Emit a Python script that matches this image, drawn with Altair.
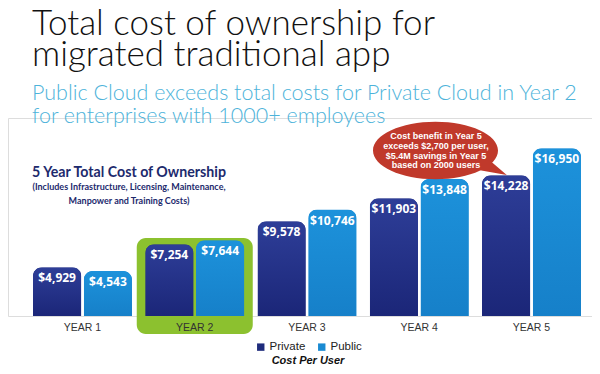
import altair as alt
import pandas as pd

# ---- data ----
years = ["YEAR 1", "YEAR 2", "YEAR 3", "YEAR 4", "YEAR 5"]
series = ["Private", "Public"]
private_cost = [4929, 7254, 9578, 11903, 14228]
public_cost = [4543, 7644, 10746, 13848, 16950]
highlight_year = ["YEAR 2"]

title_lines = ["Total cost of ownership for", "migrated traditional app"]
subtitle_lines = ["Public Cloud exceeds total costs for Private Cloud in Year 2",
                  "for enterprises with 1000+ employees"]
inner_title = ["5 Year Total Cost of Ownership"]
inner_note = ["(Includes Infrastructure, Licensing, Maintenance,",
              "Manpower and Training Costs)"]
callout_lines = ["Cost benefit in Year 5", "exceeds $2,700 per user,",
                 "$5.4M savings in Year 5", "based on 2000 users"]
legend_title = "Cost Per User"

rows = []
for i, yr in enumerate(years):
    rows.append({"Year": yr, "Series": series[0], "Cost": private_cost[i]})
    rows.append({"Year": yr, "Series": series[1], "Cost": public_cost[i]})
df = pd.DataFrame(rows)
df["Label"] = df["Cost"].map(lambda v: f"${v:,}")

hl = pd.DataFrame({"Year": highlight_year})
ann_title = pd.DataFrame({"t": ["\n".join(inner_title)]})
ann_note = pd.DataFrame({"t": ["\n".join(inner_note)]})
ann_callout = pd.DataFrame({"t": ["\n".join(callout_lines)]})

# ---- scales ----
x_scale = alt.Scale(domain=years, range=[25, 573], paddingInner=0.118, paddingOuter=0)
x_enc = alt.X("Year:N", sort=years, scale=x_scale,
              axis=alt.Axis(title=None, labelAngle=0, labelAlign="center", labelBaseline="top",
                            domain=False, ticks=False, labelPadding=6,
                            labelFont="Liberation Sans", labelFontSize=10.5, labelColor="#333333",
                            zindex=1))
y_enc = alt.Y("Cost:Q", scale=alt.Scale(domain=[0, 20000], nice=False, zero=True), axis=None)
xo_enc = alt.XOffset("Series:N", scale=alt.Scale(domain=series, paddingInner=0.05, paddingOuter=0))

grad_private = alt.Gradient(gradient="linear", x1=0, x2=0, y1=0, y2=1,
                            stops=[alt.GradientStop(color="#2e3e98", offset=0),
                                   alt.GradientStop(color="#1b2678", offset=1)])
grad_public = alt.Gradient(gradient="linear", x1=0, x2=0, y1=0, y2=1,
                           stops=[alt.GradientStop(color="#1d92db", offset=0),
                                  alt.GradientStop(color="#1680c9", offset=1)])

highlight = alt.Chart(hl).mark_bar(width=116, cornerRadius=9, color="#8cc12f").encode(
    x=alt.X("Year:N", sort=years, scale=x_scale),
    y=alt.value(120), y2=alt.value(216))

base_bars = alt.Chart(df).mark_bar(cornerRadiusTopLeft=9, cornerRadiusTopRight=9).encode(
    x=x_enc, xOffset=xo_enc, y=y_enc,
    color=alt.Color("Series:N",
                    scale=alt.Scale(domain=series, range=["#1f2c7c", "#1a8ad2"]),
                    legend=alt.Legend(title=legend_title, orient="none", legendX=247, legendY=223,
                                      direction="horizontal", titleOrient="bottom",
                                      titleAnchor="middle", symbolType="square", symbolSize=55,
                                      symbolStrokeWidth=0, labelFont="Liberation Sans",
                                      labelFontSize=11.5, labelColor="#222222",
                                      titleFont="Liberation Sans", titleFontSize=11,
                                      titleFontStyle="italic", titleFontWeight="bold",
                                      titleColor="#111111", titlePadding=2, columnPadding=10,
                                      labelOffset=3)))

priv_bars = alt.Chart(df).transform_filter(alt.datum.Series == series[0]).mark_bar(
    cornerRadiusTopLeft=9, cornerRadiusTopRight=9, color=grad_private).encode(
    x=x_enc, xOffset=xo_enc, y=y_enc)
pub_bars = alt.Chart(df).transform_filter(alt.datum.Series == series[1]).mark_bar(
    cornerRadiusTopLeft=9, cornerRadiusTopRight=9, color=grad_public).encode(
    x=x_enc, xOffset=xo_enc, y=y_enc)

labels = alt.Chart(df).mark_text(baseline="top", dy=6, color="white", font="Open Sans",
                                 fontWeight="bold", fontSize=12).encode(
    x=x_enc, xOffset=xo_enc, y=y_enc, text="Label:N")

t_inner = alt.Chart(ann_title).mark_text(font="Lato", fontWeight="bold", fontSize=14.2,
                                         color="#1d2a6d", align="center", baseline="middle").encode(
    x=alt.value(121), y=alt.value(55), text="t:N")
t_note = alt.Chart(ann_note).mark_text(font="Lato", fontWeight="bold", fontSize=9,
                                       color="#1d2a6d", align="center", baseline="middle",
                                       lineBreak="\n", lineHeight=14).encode(
    x=alt.value(121), y=alt.value(69), text="t:N")

bubble_path = ("M -1 0 C -1 -0.254 -0.5523 -0.46 0 -0.46 C 0.5523 -0.46 1 -0.254 1 0 "
               "C 1 0.254 0.5523 0.46 0 0.46 C -0.5523 0.46 -1 0.254 -1 0 Z "
               "M 0.86 0.15 L 1.14 0.39 L 0.62 0.30 Z")
bubble = alt.Chart(ann_callout).mark_point(shape=bubble_path, filled=True, size=15625,
                                           color="#c0392b", opacity=1, strokeWidth=0).encode(
    x=alt.value(427.5), y=alt.value(32.5))
t_callout = alt.Chart(ann_callout).mark_text(font="Liberation Sans", fontWeight="bold", fontSize=9,
                                             color="white", align="center", baseline="middle",
                                             lineBreak="\n", lineHeight=9.8).encode(
    x=alt.value(428), y=alt.value(18), text="t:N")

chart = alt.layer(highlight, base_bars, priv_bars, pub_bars, labels, t_inner, t_note,
                  bubble, t_callout).properties(
    width=584, height=198,
    autosize=alt.AutoSizeParams(type="none"),
    padding={"left": 0, "right": 0, "top": 110, "bottom": 50},
    title=alt.Title(text=title_lines, subtitle=subtitle_lines, anchor="start", frame="group",
                    dx=24, dy=-4, offset=-13, font="Lato", fontWeight=300, fontSize=35,
                    lineHeight=31, color="#111111", subtitleFont="Lato", subtitleFontWeight=300,
                    subtitleFontSize=21.5, subtitleLineHeight=23, subtitleColor="#4db3da",
                    subtitlePadding=10)
).configure_view(stroke=None).configure(background="white")

chart.save("out.html", embed_options={"renderer": "svg", "actions": False})
